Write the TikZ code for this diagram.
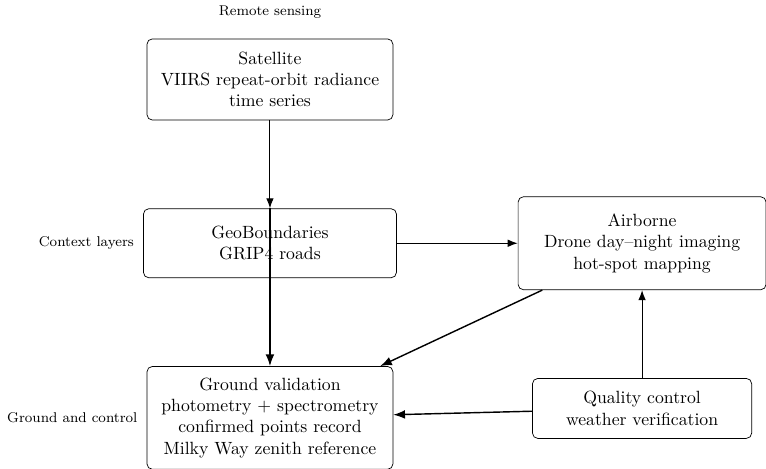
\documentclass[tikz,border=0pt]{standalone}
\usepackage{amsmath}
\usepackage{tikz}
\usetikzlibrary{arrows.meta,positioning}

\begin{document}
\begin{tikzpicture}[tier/.style={font=\footnotesize, text=black}]
        \tikzstyle{block} = [draw, rounded corners=3pt, align=center, thin]
        \tikzstyle{link} = [-Latex, semithick]
        \tikzstyle{mainlink} = [-Latex, thick]
        \useasboundingbox (0,0) rectangle (15.2,-9.306);
        \node[block, minimum width=4.88cm, minimum height=1.61cm] (sat) at (5.357,-1.577) {Satellite\\VIIRS repeat-orbit radiance\\time series};
        \node[block, below = 1.746cm of sat, minimum width=5.02cm, minimum height=1.37cm] (geo) {GeoBoundaries\\GRIP4 roads};
        \node[block, below = 1.746cm of geo, minimum width=4.88cm, minimum height=2.04cm] (ground) {Ground validation\\photometry $+$ spectrometry\\confirmed points record\\Milky Way zenith reference};
        \node[block, right = 2.4cm of geo, minimum width=4.92cm, minimum height=1.845cm] (air) {Airborne\\Drone day--night imaging\\hot-spot mapping};
        \node[block, below = 1.746cm of air, minimum width=4.35cm, minimum height=1.19cm] (qc) {Quality control\\weather verification};

        \node[tier, above = 0.27cm of sat] (remote) {Remote sensing};
        \node[tier, left = 0.06cm of geo] (context) {Context layers};
        \node[tier, left = 0.06cm of ground] (control) {Ground and control};

        \draw [link] (sat) -- (geo);
        \draw [mainlink] (geo.north) -- (ground);
        \draw [link] (geo) -- (air);
        \draw [mainlink] (air) -- (ground);
        \draw [mainlink] (qc) -- (ground);
        \draw [link] (qc) -- (air);
\end{tikzpicture}
\end{document}
